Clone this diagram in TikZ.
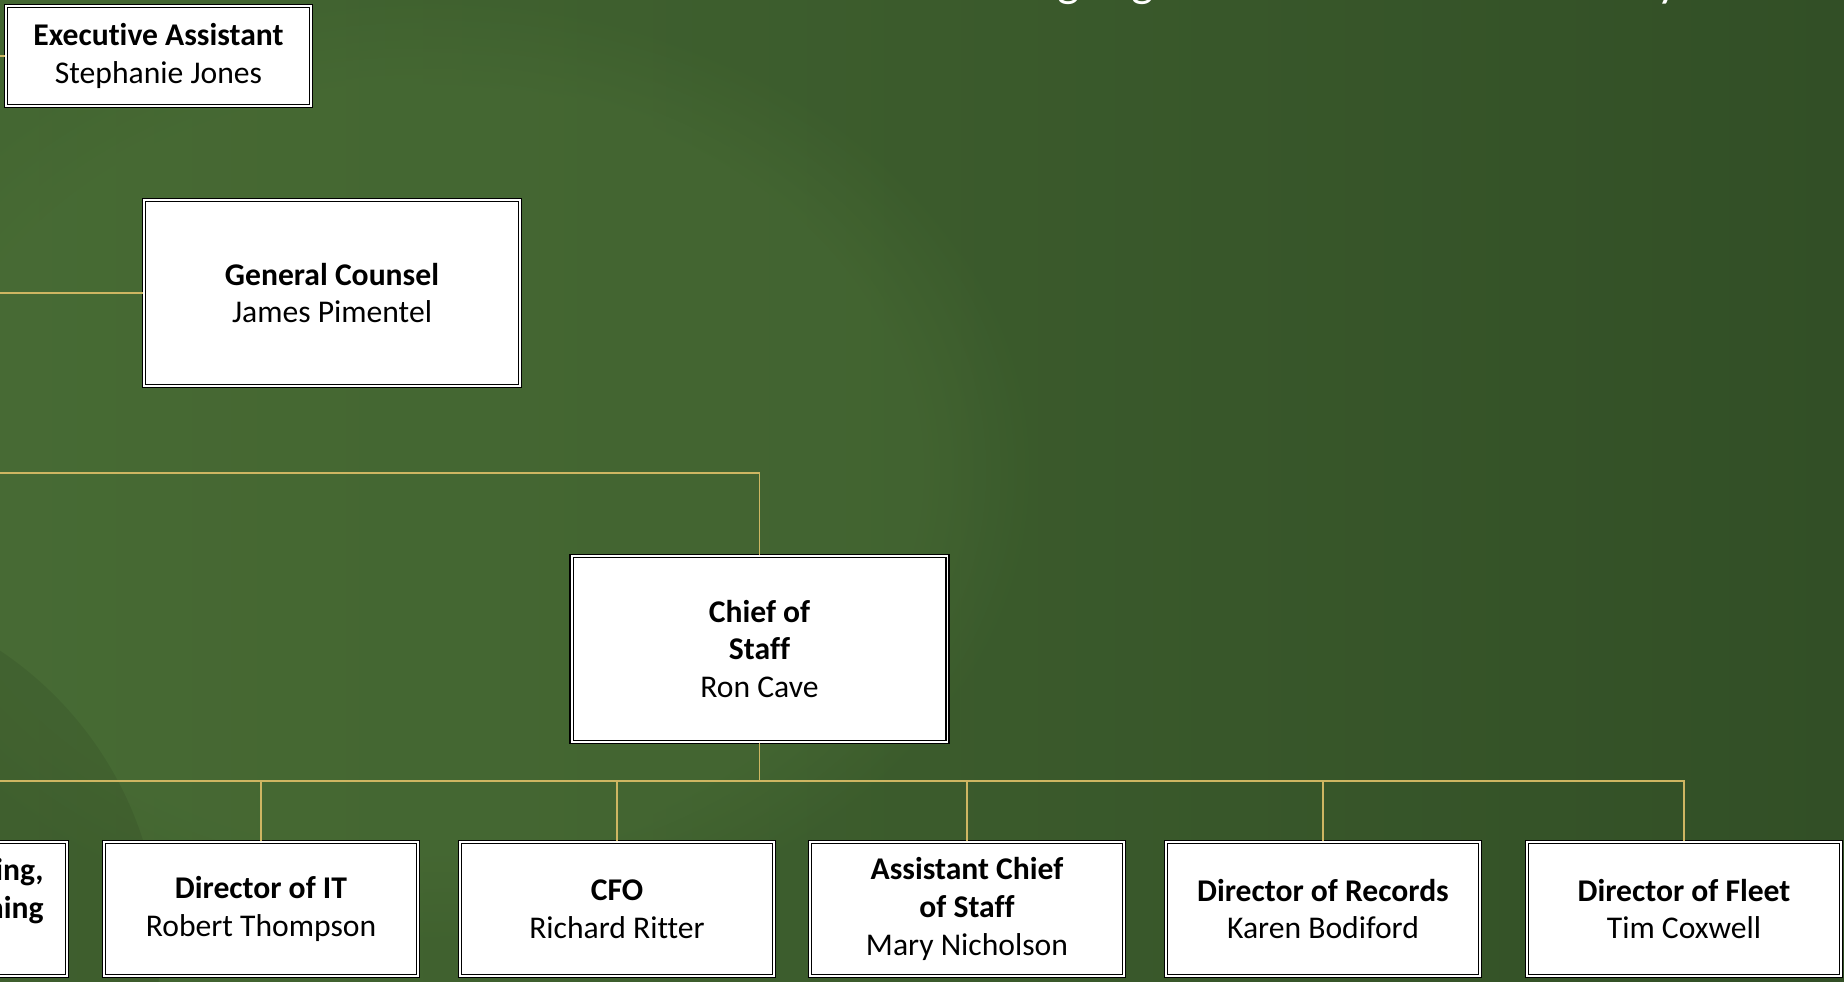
\documentclass[tikz,border=0pt]{standalone}
\usepackage{fontspec}
\setmainfont{Carlito}[Ligatures=NoCommon]
\usetikzlibrary{fadings}
\definecolor{bgleft}{RGB}{68,103,50}
\definecolor{bgright}{RGB}{50,79,38}
\definecolor{bglight}{RGB}{76,112,55}
\definecolor{linkgold}{RGB}{206,182,98}
\begin{document}
\begin{tikzpicture}[x=0.02cm,y=-0.02cm,
  box/.style={draw=black, double=white, line width=0.7pt, double distance=1.1pt,
    fill=white, inner sep=0pt, align=center,
    font=\fontsize{18}{21.6}\selectfont},
  lowbox/.style={box, minimum width=6.28cm, minimum height=2.68cm},
  bigbox/.style={box, minimum width=7.52cm, minimum height=3.72cm},
  link/.style={draw=linkgold, line width=0.9pt},
  titlechar/.style={text=white, inner sep=0pt, anchor=base,
    font=\fontsize{27}{32}\selectfont}]

\useasboundingbox (0,0) rectangle (1844,981);
\clip (0,0) rectangle (1844,981);

% background
\shade[left color=bgleft, right color=bgright] (0,0) rectangle (1844,981);
\fill[bglight, opacity=0.4, path fading=circle with fuzzy edge 20 percent]
  (420,470) ellipse [x radius=620, y radius=480];
\fill[black, opacity=0.07] (-200,950) circle [radius=360];

% title line running above the frame
\node[titlechar] (t1) at (1069,-4) {g};
\node[titlechar] (t2) at (1143,-4) {g};
\node[titlechar] (t3) at (1668,-4) {y};

% upper boxes
\node[box, minimum width=6.1cm, minimum height=2.0cm] (exec) at (158.5,56)
  {\textbf{Executive Assistant}\\Stephanie Jones};
\node[bigbox] (gc) at (332,293) {\textbf{General Counsel}\\James Pimentel};
\node[bigbox] (chief) at (759.5,649) {\textbf{Chief of}\\\textbf{Staff}\\Ron Cave};

% lower row
\node[lowbox] (plan) at (-90,909) {};
\node[anchor=east, align=right, inner sep=0pt,
  font=\fontsize{18}{21.6}\selectfont\bfseries] (plantxt) at (44,891) {ing,\\ning};
\node[lowbox] (it) at (261,909) {\textbf{Director of IT}\\Robert Thompson};
\node[lowbox] (cfo) at (617,909) {\textbf{CFO}\\Richard Ritter};
\node[lowbox] (acos) at (967,909) {\textbf{Assistant Chief}\\\textbf{of Staff}\\Mary Nicholson};
\node[lowbox] (rec) at (1323,909) {\textbf{Director of Records}\\Karen Bodiford};
\node[lowbox] (fleet) at (1684,909) {\textbf{Director of Fleet}\\Tim Coxwell};

% connectors
\coordinate (e0) at (0,56);
\coordinate (g0) at (0,293);
\coordinate (c0) at (0,473);
\coordinate (bus) at (0,781);
\draw[link] (e0) -- (exec.west);
\draw[link] (g0) -- (gc.west);
\draw[link] (c0) -| (chief.north);
\draw[link] (chief.south) -- (chief.south |- bus);
\draw[link] (bus) -| (fleet.north);
\foreach \n in {it,cfo,acos,rec}
  \draw[link] (\n.north) -- (\n.north |- bus);
\end{tikzpicture}
\end{document}
